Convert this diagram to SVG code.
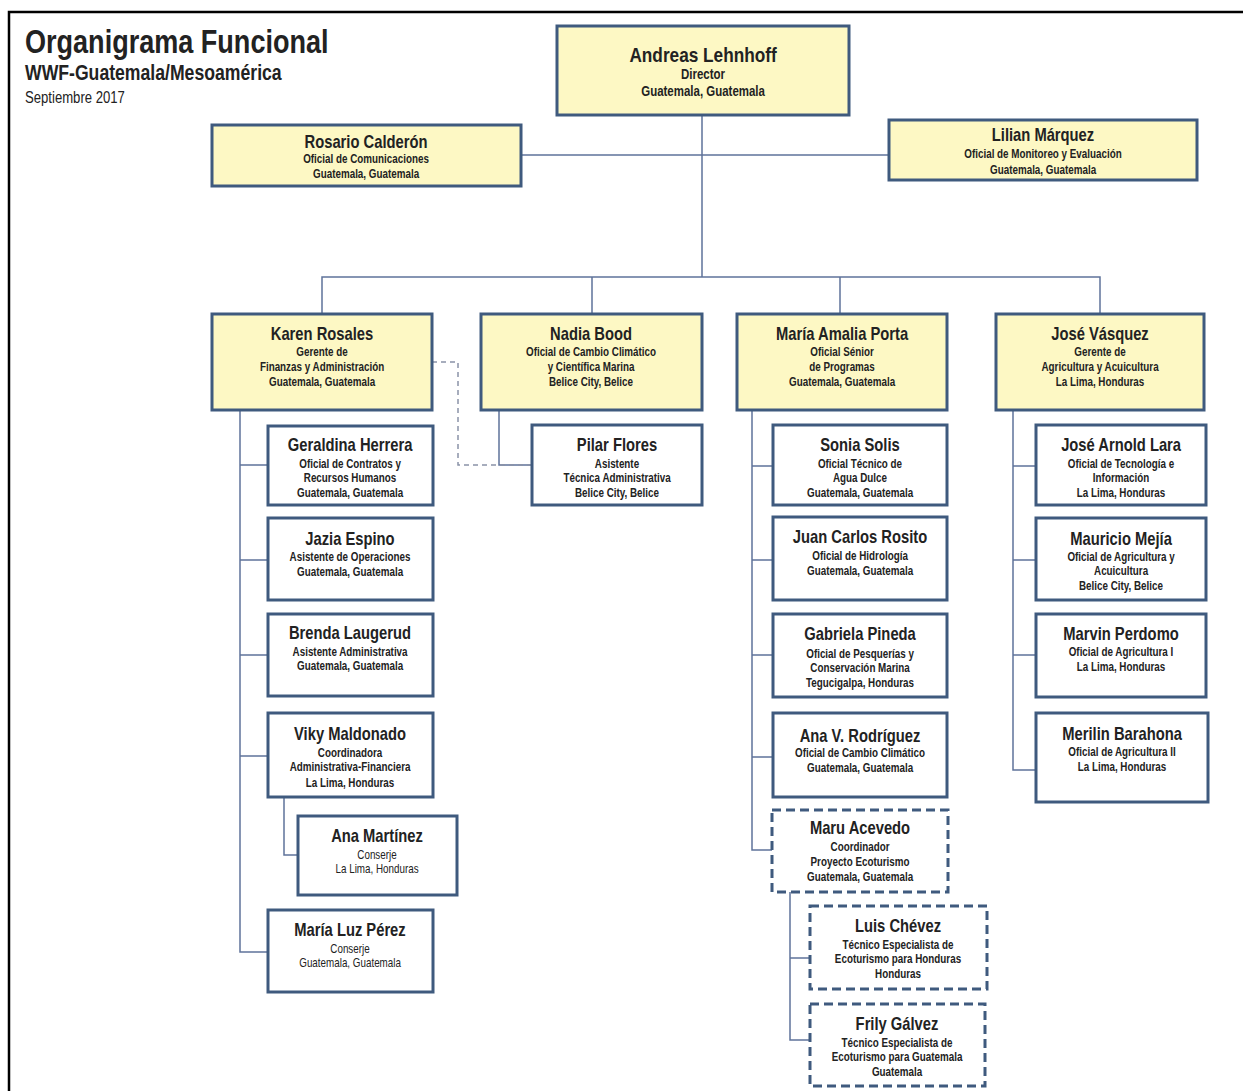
<svg xmlns="http://www.w3.org/2000/svg" width="1243" height="1091" viewBox="0 0 1243 1091">
<style>
text{font-family:"Liberation Sans",Arial,sans-serif;fill:#222;text-anchor:middle;transform-box:fill-box;transform-origin:center;transform:scaleX(.82)}
.n{font-size:18px;font-weight:bold}
.n2{font-size:21px;font-weight:bold}
.s{font-size:12px;font-weight:bold}
.s2{font-size:14px;font-weight:bold}
.r{font-weight:normal}
.y{fill:#fdf8c4;stroke:#3f5a7e;stroke-width:3}
.w{fill:#fff;stroke:#3f5a7e;stroke-width:3}
.d{fill:#fff;stroke:#3f5a7e;stroke-width:3;stroke-dasharray:9 5}
.c{fill:none;stroke:#5f739a;stroke-width:1.5}
.cd{fill:none;stroke:#8a93a8;stroke-width:1.5;stroke-dasharray:5 4}
.t{text-anchor:start;transform-origin:left center}
</style>
<rect width="1243" height="1091" fill="#fff"/>
<path d="M9 1091V12H1243" fill="none" stroke="#000" stroke-width="2.5"/>
<g id="title">
<text class="t" x="25" y="53" style="font-size:33px;font-weight:bold">Organigrama Funcional</text>
<text class="t" x="25" y="80" style="font-size:21.5px;font-weight:bold">WWF-Guatemala/Mesoamérica</text>
<text class="t" x="25" y="103" style="font-size:16px">Septiembre 2017</text>
</g>
<g id="connectors">
<path class="c" d="M702 115V277M521 155H889M322 314V277H1100V314M592 277V314M840 277V314"/>
<path class="c" d="M240 410V952H268M240 465H268M240 560H268M240 655H268M240 756H268M284 797V855H298"/>
<path class="c" d="M499 410V465H532"/>
<path class="cd" d="M432 362H458V465H532"/>
<path class="c" d="M752 410V850H772M752 466H773M752 560H773M752 655H773M752 757H773"/>
<path class="c" d="M790 892V1040H810M790 958H810"/>
<path class="c" d="M1013 410V770H1036M1013 466H1036M1013 560H1036M1013 655H1036"/>
</g>
<g id="andreas"><rect class="y" x="557" y="26" width="292" height="89"/>
<text class="n2" x="703" y="62">Andreas Lehnhoff</text><text class="s2" x="703" y="79">Director</text><text class="s2" x="703" y="96">Guatemala, Guatemala</text></g>
<g id="rosario"><rect class="y" x="212" y="125" width="309" height="61"/>
<text class="n" x="366" y="148">Rosario Calderón</text><text class="s" x="366" y="163">Oficial de Comunicaciones</text><text class="s" x="366" y="178">Guatemala, Guatemala</text></g>
<g id="lilian"><rect class="y" x="889" y="120" width="308" height="60"/>
<text class="n" x="1043" y="141">Lilian Márquez</text><text class="s" x="1043" y="158">Oficial de Monitoreo  y Evaluación</text><text class="s" x="1043" y="174">Guatemala, Guatemala</text></g>
<g id="karen"><rect class="y" x="212" y="314" width="220" height="96"/>
<text class="n" x="322" y="340">Karen Rosales</text><text class="s" x="322" y="356">Gerente de</text><text class="s" x="322" y="371">Finanzas y Administración</text><text class="s" x="322" y="386">Guatemala, Guatemala</text></g>
<g id="nadia"><rect class="y" x="481" y="314" width="221" height="96"/>
<text class="n" x="591" y="340">Nadia Bood</text><text class="s" x="591" y="356">Oficial de  Cambio Climático</text><text class="s" x="591" y="371">y Científica Marina</text><text class="s" x="591" y="386">Belice City, Belice</text></g>
<g id="mariaamalia"><rect class="y" x="737" y="314" width="210" height="96"/>
<text class="n" x="842" y="340">María Amalia Porta</text><text class="s" x="842" y="356">Oficial Sénior</text><text class="s" x="842" y="371">de Programas</text><text class="s" x="842" y="386">Guatemala, Guatemala</text></g>
<g id="josev"><rect class="y" x="996" y="314" width="208" height="96"/>
<text class="n" x="1100" y="340">José Vásquez</text><text class="s" x="1100" y="356">Gerente de</text><text class="s" x="1100" y="371">Agricultura y Acuicultura</text><text class="s" x="1100" y="386">La Lima, Honduras</text></g>
<g id="geraldina"><rect class="w" x="268" y="426" width="165" height="79"/>
<text class="n" x="350" y="451">Geraldina Herrera</text><text class="s" x="350" y="468">Oficial de Contratos y</text><text class="s" x="350" y="482">Recursos Humanos</text><text class="s" x="350" y="497">Guatemala, Guatemala</text></g>
<g id="jazia"><rect class="w" x="268" y="518" width="165" height="82"/>
<text class="n" x="350" y="545">Jazia Espino</text><text class="s" x="350" y="561">Asistente de Operaciones</text><text class="s" x="350" y="576">Guatemala, Guatemala</text></g>
<g id="brenda"><rect class="w" x="268" y="614" width="165" height="82"/>
<text class="n" x="350" y="639">Brenda Laugerud</text><text class="s" x="350" y="656">Asistente Administrativa</text><text class="s" x="350" y="670">Guatemala, Guatemala</text></g>
<g id="viky"><rect class="w" x="268" y="713" width="165" height="84"/>
<text class="n" x="350" y="740">Viky Maldonado</text><text class="s" x="350" y="757">Coordinadora</text><text class="s" x="350" y="771">Administrativa-Financiera</text><text class="s" x="350" y="787">La Lima, Honduras</text></g>
<g id="anamartinez"><rect class="w" x="298" y="816" width="159" height="79"/>
<text class="n" x="377" y="842">Ana Martínez</text><text class="s r" x="377" y="859">Conserje</text><text class="s r" x="377" y="873">La Lima, Honduras</text></g>
<g id="marialuz"><rect class="w" x="268" y="910" width="165" height="82"/>
<text class="n" x="350" y="936">María Luz Pérez</text><text class="s r" x="350" y="953">Conserje</text><text class="s r" x="350" y="967">Guatemala, Guatemala</text></g>
<g id="pilar"><rect class="w" x="532" y="425" width="170" height="80"/>
<text class="n" x="617" y="451">Pilar Flores</text><text class="s" x="617" y="468">Asistente</text><text class="s" x="617" y="482">Técnica Administrativa</text><text class="s" x="617" y="497">Belice City, Belice</text></g>
<g id="sonia"><rect class="w" x="773" y="425" width="174" height="80"/>
<text class="n" x="860" y="451">Sonia Solis</text><text class="s" x="860" y="468">Oficial Técnico de</text><text class="s" x="860" y="482">Agua Dulce</text><text class="s" x="860" y="497">Guatemala, Guatemala</text></g>
<g id="juancarlos"><rect class="w" x="773" y="517" width="174" height="83"/>
<text class="n" x="860" y="543">Juan Carlos Rosito</text><text class="s" x="860" y="560">Oficial de Hidrología</text><text class="s" x="860" y="575">Guatemala, Guatemala</text></g>
<g id="gabriela"><rect class="w" x="773" y="614" width="174" height="83"/>
<text class="n" x="860" y="640">Gabriela Pineda</text><text class="s" x="860" y="658">Oficial de Pesquerías y</text><text class="s" x="860" y="672">Conservación Marina</text><text class="s" x="860" y="687">Tegucigalpa, Honduras</text></g>
<g id="anav"><rect class="w" x="773" y="713" width="174" height="84"/>
<text class="n" x="860" y="742">Ana V. Rodríguez</text><text class="s" x="860" y="757">Oficial de Cambio Climático</text><text class="s" x="860" y="772">Guatemala, Guatemala</text></g>
<g id="maru"><rect class="d" x="772" y="810" width="176" height="82"/>
<text class="n" x="860" y="834">Maru Acevedo</text><text class="s" x="860" y="851">Coordinador</text><text class="s" x="860" y="866">Proyecto Ecoturismo</text><text class="s" x="860" y="881">Guatemala, Guatemala</text></g>
<g id="luis"><rect class="d" x="810" y="906" width="177" height="83"/>
<text class="n" x="898" y="932">Luis Chévez</text><text class="s" x="898" y="949">Técnico Especialista de</text><text class="s" x="898" y="963">Ecoturismo para Honduras</text><text class="s" x="898" y="978">Honduras</text></g>
<g id="frily"><rect class="d" x="810" y="1004" width="175" height="82"/>
<text class="n" x="897" y="1030">Frily Gálvez</text><text class="s" x="897" y="1047">Técnico Especialista de</text><text class="s" x="897" y="1061">Ecoturismo para Guatemala</text><text class="s" x="897" y="1076">Guatemala</text></g>
<g id="josearnold"><rect class="w" x="1036" y="425" width="170" height="80"/>
<text class="n" x="1121" y="451">José Arnold Lara</text><text class="s" x="1121" y="468">Oficial de Tecnología e</text><text class="s" x="1121" y="482">Información</text><text class="s" x="1121" y="497">La Lima, Honduras</text></g>
<g id="mauricio"><rect class="w" x="1036" y="518" width="170" height="82"/>
<text class="n" x="1121" y="545">Mauricio Mejía</text><text class="s" x="1121" y="561">Oficial de Agricultura y</text><text class="s" x="1121" y="575">Acuicultura</text><text class="s" x="1121" y="590">Belice City, Belice</text></g>
<g id="marvin"><rect class="w" x="1036" y="614" width="170" height="83"/>
<text class="n" x="1121" y="640">Marvin Perdomo</text><text class="s" x="1121" y="656">Oficial de Agricultura I</text><text class="s" x="1121" y="671">La Lima, Honduras</text></g>
<g id="merilin"><rect class="w" x="1036" y="713" width="172" height="89"/>
<text class="n" x="1122" y="740">Merilin Barahona</text><text class="s" x="1122" y="756">Oficial de Agricultura II</text><text class="s" x="1122" y="771">La Lima, Honduras</text></g>
</svg>
